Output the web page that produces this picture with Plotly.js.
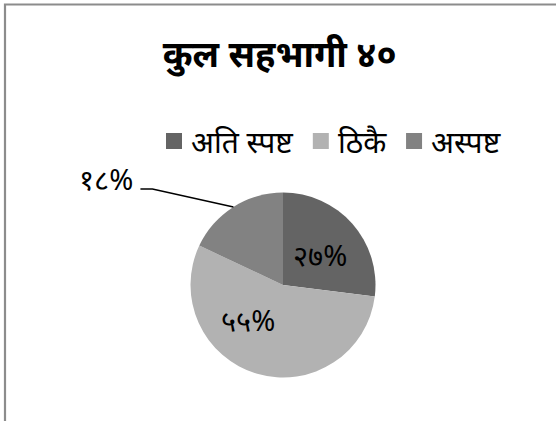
<!DOCTYPE html>
<html>
<head>
<meta charset="utf-8">
<script src="https://cdn.plot.ly/plotly-3.0.1.min.js"></script>
<style>html,body{margin:0;padding:0;background:#fff;}#chart{width:556px;height:421px;}</style>
</head>
<body>
<div id="chart"></div>
<script>
// ---- data ----
var titleText = 'कुल सहभागी ४०';
var categories = ['अति स्पष्ट', 'ठिकै', 'अस्पष्ट'];
var shares = [27, 55, 18];
var sliceColors = ['#646464', '#b2b2b2', '#828282'];

// ---- helpers ----
var W = 556, H = 421;
var devDigits = '०१२३४५६७८९';
function toDev(n) { return String(n).replace(/[0-9]/g, function (d) { return devDigits[+d]; }); }
var labelTexts = shares.map(function (v) { return toDev(v) + '%'; });
function px2x(p) { return p / W; }
function py2y(p) { return 1 - p / H; }

var font = 'Noto Sans, DejaVu Sans, sans-serif';
var labelSize = 29, legendSize = 30, titleSize = 36;

// pie geometry (pixels)
var cx = 283, cy = 285, R = 92.5;

// label placement style: angle offset from slice mid-angle (deg) and radius fraction; null = outside with leader
var labelPlace = [{dAng: 3, rf: 0.51}, {dAng: 29, rf: 0.54}, null];

var total = shares.reduce(function (a, b) { return a + b; }, 0);
var annotations = [], shapes = [];
var cum = 0;
shares.forEach(function (v, i) {
  var mid = (cum + v / 2) / total * 360;
  cum += v;
  var p = labelPlace[i];
  if (p) {
    var a = (mid + p.dAng) * Math.PI / 180;
    annotations.push({xref: 'paper', yref: 'paper', x: px2x(cx + p.rf * R * Math.sin(a)), y: py2y(cy - p.rf * R * Math.cos(a) - 1),
      xanchor: 'center', yanchor: 'middle', text: labelTexts[i], showarrow: false,
      font: {family: font, size: labelSize, color: '#000'}});
  } else {
    var a2 = mid * Math.PI / 180;
    var ex = cx + R * Math.sin(a2), ey = cy - R * Math.cos(a2);
    var elbowX = ex - 81, elbowY = ey - 18, startX = ex - 93;
    shapes.push({type: 'path', xref: 'paper', yref: 'paper',
      path: 'M' + px2x(startX) + ',' + py2y(elbowY) + ' L' + px2x(elbowX) + ',' + py2y(elbowY) + ' L' + px2x(ex) + ',' + py2y(ey),
      line: {color: '#000', width: 1.5}});
    annotations.push({xref: 'paper', yref: 'paper', x: px2x(startX - 5), y: py2y(elbowY - 10), xanchor: 'right', yanchor: 'middle',
      text: labelTexts[i], showarrow: false, font: {family: font, size: labelSize, color: '#000'}});
  }
});

// ---- legend drawn as squares + text, laid out from measured text widths ----
var ctx = document.createElement('canvas').getContext('2d');
ctx.font = legendSize + 'px ' + font;
var lx = 166, ly = 141, sq = 16, gapText = 7, gapItem = 22;
categories.forEach(function (c, i) {
  shapes.push({type: 'rect', xref: 'paper', yref: 'paper', x0: px2x(lx), x1: px2x(lx + sq), y0: py2y(ly + sq / 2), y1: py2y(ly - sq / 2),
    fillcolor: sliceColors[i], line: {width: 0}});
  var tx = lx + sq + gapText;
  annotations.push({xref: 'paper', yref: 'paper', x: px2x(tx), y: py2y(ly), xanchor: 'left', yanchor: 'middle',
    text: c, showarrow: false, font: {family: font, size: legendSize, color: '#000'}});
  lx = tx + ctx.measureText(c).width + gapItem;
});

// chart border
shapes.unshift({type: 'rect', xref: 'paper', yref: 'paper', x0: px2x(5), x1: 1.02, y0: -0.02, y1: py2y(4.5),
  line: {color: '#8c8c8c', width: 2.2}, fillcolor: 'rgba(0,0,0,0)', layer: 'below'});

var trace = {
  type: 'pie',
  values: shares,
  labels: categories,
  textinfo: 'none',
  sort: false,
  direction: 'clockwise',
  rotation: 0,
  marker: {colors: sliceColors, line: {width: 0}},
  hoverinfo: 'none',
  showlegend: false,
  domain: {x: [px2x(cx - R), px2x(cx + R)], y: [py2y(cy + R), py2y(cy - R)]}
};

var layout = {
  width: W, height: H,
  margin: {l: 0, r: 0, t: 0, b: 0},
  paper_bgcolor: '#fff',
  font: {family: font, color: '#000'},
  title: {text: '<b>' + titleText + '</b>', font: {family: font, size: titleSize, color: '#000'}, x: 0.503, xanchor: 'center', y: py2y(54), yanchor: 'middle'},
  showlegend: false,
  shapes: shapes,
  annotations: annotations
};

Plotly.newPlot('chart', [trace], layout, {displayModeBar: false, staticPlot: true});
</script>
</body>
</html>
